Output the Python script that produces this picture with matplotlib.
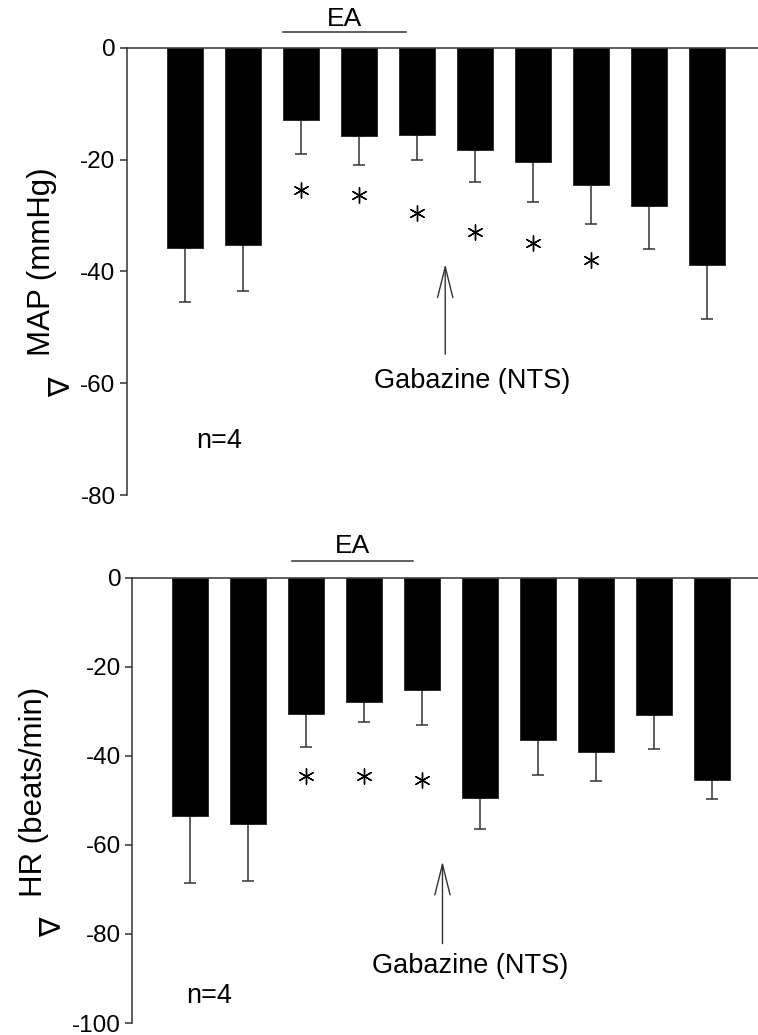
import matplotlib
matplotlib.use("Agg")
import matplotlib.pyplot as plt
import numpy as np

plt.rcParams['font.family'] = ['Liberation Sans', 'DejaVu Sans']

# ---- data ----
positions = list(range(10))
map_mean = [-35.9, -35.3, -13.0, -15.8, -15.6, -18.3, -20.5, -24.5, -28.3, -38.8]
map_err = [9.5, 8.3, 6.0, 5.1, 4.5, 5.7, 7.1, 7.1, 7.7, 9.7]
map_star_x = [2, 3, 4, 5, 6, 7]
map_star_y = [-25.4, -26.3, -29.6, -33.0, -34.9, -37.9]

hr_mean = [-53.6, -55.2, -30.5, -28.0, -25.2, -49.5, -36.5, -39.1, -30.8, -45.4]
hr_err = [15.0, 12.8, 7.5, 4.4, 7.9, 7.0, 7.9, 6.6, 7.6, 4.2]
hr_star_x = [2, 3, 4]
hr_star_y = [-44.6, -44.6, -45.4]

map_ticks = [0, -20, -40, -60, -80]
hr_ticks = [0, -20, -40, -60, -80, -100]

W, H = 758, 1035
fig = plt.figure(figsize=(W / 100, H / 100), dpi=100)


def px_axes(left, right, top, bottom):
    return fig.add_axes([left / W, 1 - bottom / H, (right - left) / W, (bottom - top) / H])


def draw_panel(ax, mean, err, star_x, star_y, ticks, ylim, xlim, ea_x, ea_line_y, ea_text_y,
               arrow_x, arrow_tip, arrow_tail, gab_xy, n_xy):
    ax.bar(positions, mean, width=0.62, color='black', edgecolor='#222222', linewidth=0.6, zorder=2)
    ax.errorbar(positions, mean, yerr=[err, np.zeros(len(err))], fmt='none',
                ecolor='#333333', elinewidth=1.1, capsize=4.6, capthick=1.1, zorder=1)
    ax.scatter(star_x, star_y, marker=(6, 2, 0), s=120, color='black', linewidths=1.0, zorder=3)
    ax.set_xlim(*xlim)
    ax.set_ylim(*ylim)
    ax.set_yticks(ticks)
    ax.set_yticklabels([str(t) for t in ticks], fontsize=17.5)
    ax.set_xticks([])
    for s in ['right', 'bottom']:
        ax.spines[s].set_visible(False)
    ax.spines['left'].set_color('#333333')
    ax.spines['top'].set_color('#333333')
    ax.spines['left'].set_linewidth(1.1)
    ax.spines['top'].set_linewidth(1.1)
    ax.tick_params(axis='y', direction='out', length=5, width=1.1, color='#333333', pad=3)
    # EA marker
    ax.plot(ea_x, [ea_line_y, ea_line_y], color='#333333', lw=1.1, clip_on=False)
    ax.text(np.mean(ea_x), ea_text_y, 'EA', ha='center', va='center', fontsize=19, clip_on=False)
    # arrow
    ax.annotate('', xy=(arrow_x, arrow_tip), xytext=(arrow_x, arrow_tail),
                arrowprops=dict(arrowstyle='->,head_length=2.2,head_width=0.55',
                                color='#333333', lw=1.0))
    ax.text(gab_xy[0], gab_xy[1], 'Gabazine (NTS)', ha='center', va='center', fontsize=19.5)
    ax.text(n_xy[0], n_xy[1], 'n=4', ha='center', va='center', fontsize=19.5)


ax1 = px_axes(126.7, 758, 47.7, 495)
draw_panel(ax1, map_mean, map_err, map_star_x, map_star_y, map_ticks, (-80, 0), (-1.002, 9.883),
           [1.70, 3.81], 2.75, 5.1, 4.49, -38.2, -55.3, (4.95, -59.7), (0.59, -70.4))

ax2 = px_axes(132.3, 758, 577.7, 1023)
draw_panel(ax2, hr_mean, hr_err, hr_star_x, hr_star_y, hr_ticks, (-100, 0), (-0.998, 9.79),
           [1.75, 3.85], 3.8, 7.1, 4.35, -63.1, -82.8, (4.82, -87.3), (0.33, -93.9))

# y labels
fig.text(41.7 / W, 1 - 262 / H, 'MAP (mmHg)', rotation=90, ha='center', va='center', fontsize=22.5)
fig.text(61 / W, 1 - 387.5 / H, '\u2207', rotation=90, ha='center', va='center', fontsize=21,
         family=['DejaVu Sans'])
fig.text(34 / W, 1 - 791.7 / H, 'HR (beats/min)', rotation=90, ha='center', va='center', fontsize=22.5)
fig.text(52 / W, 1 - 927.5 / H, '\u2207', rotation=90, ha='center', va='center', fontsize=21,
         family=['DejaVu Sans'])

fig.savefig('out.png', dpi=100, facecolor='white')
